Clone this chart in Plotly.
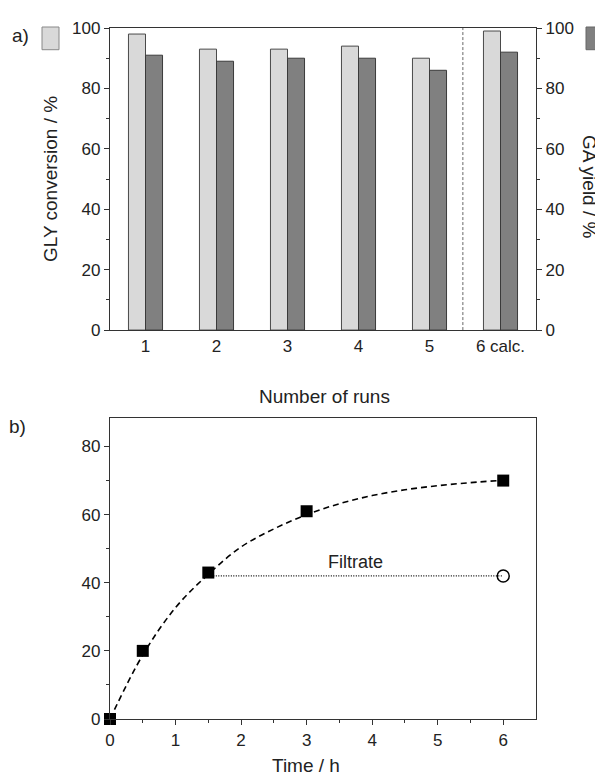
import plotly.graph_objects as go

# ---- data: panel a ----
runs = [1, 2, 3, 4, 5, 6]
run_labels = ["1", "2", "3", "4", "5", "6 calc."]
gly_conversion = [98, 93, 93, 94, 90, 99]
ga_yield_runs = [91, 89, 90, 90, 86, 92]

# ---- data: panel b ----
time_h = [0, 0.5, 1.5, 3, 6]
ga_yield_time = [0, 20, 43, 61, 70]
filtrate_time = [1.5, 6]
filtrate_yield = [42, 42]
fit_time = [0, 0.5, 1, 1.5, 2, 2.5, 3, 3.5, 4, 4.5, 5, 5.5, 6]
fit_yield = [0, 18.8, 32.7, 42.5, 50.5, 55.8, 60.0, 63.2, 65.6, 67.3, 68.5, 69.4, 70.1]

FONT = "Liberation Sans, Arial, sans-serif"
AX = "#333333"
LIGHT = "#d9d9d9"
DARK = "#808080"

OFF = 8  # page body margin
W, H = 603 - OFF, 779 - OFF
L, T = 110 - OFF, 19 - OFF
R = W - (536 - OFF)
B = H - (719 - OFF)
PW, PH = W - L - R, H - T - B

def px(x):
    return (x - OFF - L) / PW

def py(y):
    return (H - B - (y - OFF)) / PH

fig = go.Figure()

fig.add_trace(go.Bar(x=runs, y=gly_conversion, width=0.24, offset=-0.24,
                     marker=dict(color=LIGHT, line=dict(color="#4a4a4a", width=1)),
                     xaxis="x", yaxis="y", showlegend=False))
fig.add_trace(go.Bar(x=runs, y=ga_yield_runs, width=0.24, offset=0,
                     marker=dict(color=DARK, line=dict(color="#3a3a3a", width=1)),
                     xaxis="x", yaxis="y2", showlegend=False))

fig.add_trace(go.Scatter(x=fit_time, y=fit_yield, mode="lines", line=dict(color="black", width=1.6, dash="6px,4px", shape="spline"),
                         xaxis="x2", yaxis="y3", showlegend=False))
fig.add_trace(go.Scatter(x=filtrate_time, y=filtrate_yield, mode="lines", line=dict(color="black", width=1.2, dash="1px,1.5px"),
                         xaxis="x2", yaxis="y3", showlegend=False))
fig.add_trace(go.Scatter(x=time_h, y=ga_yield_time, mode="markers", marker=dict(symbol="square", size=12, color="black"),
                         xaxis="x2", yaxis="y3", showlegend=False, cliponaxis=False))
fig.add_trace(go.Scatter(x=[filtrate_time[-1]], y=[filtrate_yield[-1]], mode="markers",
                         marker=dict(symbol="circle-open", size=12, color="black", line=dict(width=1.5)),
                         xaxis="x2", yaxis="y3", showlegend=False, cliponaxis=False))

tickfont = dict(family=FONT, size=17, color="#222222")
top_dom = [py(325), 1.0]
bot_dom = [0.0, py(414)]

fig.update_layout(
    width=W, height=H,
    margin=dict(l=L, r=R, t=T, b=B),
    paper_bgcolor="white", plot_bgcolor="white",
    barmode="overlay",
    font=dict(family=FONT, color="#222222"),
    xaxis=dict(domain=[0, 1], range=[0.5, 6.5], tickvals=runs, ticktext=run_labels, ticks="",
               showline=True, linecolor=AX, linewidth=1.3, mirror=True, showgrid=False, zeroline=False,
               tickfont=tickfont, anchor="y"),
    yaxis=dict(domain=top_dom, range=[0, 100], tickvals=[0, 20, 40, 60, 80, 100], ticks="outside", ticklen=5,
               tickcolor=AX, tickwidth=1.2, showline=True, linecolor=AX, linewidth=1.3, showgrid=False, zeroline=False,
               tickfont=tickfont, anchor="x",
               minor=dict(tickvals=[10, 30, 50, 70, 90], ticks="outside", ticklen=3, tickcolor=AX, tickwidth=1.2)),
    yaxis2=dict(range=[0, 100], overlaying="y", side="right", tickvals=[0, 20, 40, 60, 80, 100], ticks="outside", ticklen=5,
                tickcolor=AX, tickwidth=1.2, showline=True, linecolor=AX, linewidth=1.3, showgrid=False, zeroline=False,
                tickfont=tickfont, anchor="x",
                minor=dict(tickvals=[10, 30, 50, 70, 90], ticks="outside", ticklen=3, tickcolor=AX, tickwidth=1.2)),
    xaxis2=dict(domain=[0, 1], range=[0, 6.5], tickvals=[0, 1, 2, 3, 4, 5, 6], ticks="outside", ticklen=5,
                tickcolor=AX, tickwidth=1.2, showline=True, linecolor=AX, linewidth=1.3, mirror=True, showgrid=False,
                zeroline=False, tickfont=tickfont, anchor="y3",
                minor=dict(tickvals=[0.5, 1.5, 2.5, 3.5, 4.5, 5.5], ticks="outside", ticklen=3, tickcolor=AX, tickwidth=1.2)),
    yaxis3=dict(domain=bot_dom, range=[0, 88.4], tickvals=[0, 20, 40, 60, 80], ticks="outside", ticklen=5,
                tickcolor=AX, tickwidth=1.2, showline=True, linecolor=AX, linewidth=1.3, mirror=True, showgrid=False,
                zeroline=False, tickfont=tickfont, anchor="x2",
                minor=dict(tickvals=[10, 30, 50, 70], ticks="outside", ticklen=3, tickcolor=AX, tickwidth=1.2)),
)

# dashed separator in panel a
fig.add_shape(type="line", xref="x", yref="y", x0=5.47, x1=5.47, y0=0, y1=100,
              line=dict(color="#666666", width=1, dash="3px,2px"))

# legend swatches beside axis titles
fig.add_shape(type="rect", xref="paper", yref="paper", x0=px(42), x1=px(59), y0=py(41), y1=py(18),
              fillcolor=LIGHT, line=dict(color="#888888", width=1))
fig.add_shape(type="rect", xref="paper", yref="paper", x0=px(586), x1=px(604), y0=py(41), y1=py(18),
              fillcolor=DARK, line=dict(color="#666666", width=1))

titlefont = dict(family=FONT, size=19, color="#222222")
ann = [
    dict(text="a)", x=px(20), y=py(27), font=titlefont),
    dict(text="b)", x=px(17), y=py(423), font=titlefont),
    dict(text="GLY conversion / %", x=px(50), y=py(172), textangle=-90, font=titlefont),
    dict(text="GA yield / %", x=px(589), y=py(180), textangle=90, font=titlefont),
    dict(text="Number of runs", x=px(324), y=py(392), font=titlefont),
    dict(text="Time / h", x=px(306), y=py(766), font=titlefont),
]
for a in ann:
    fig.add_annotation(xref="paper", yref="paper", showarrow=False, xanchor="center", yanchor="middle", **a)

fig.add_annotation(xref="x2", yref="y3", x=3.74, y=46, text="Filtrate", showarrow=False,
                   font=dict(family=FONT, size=18, color="#222222"))

fig.write_html("out.html")
